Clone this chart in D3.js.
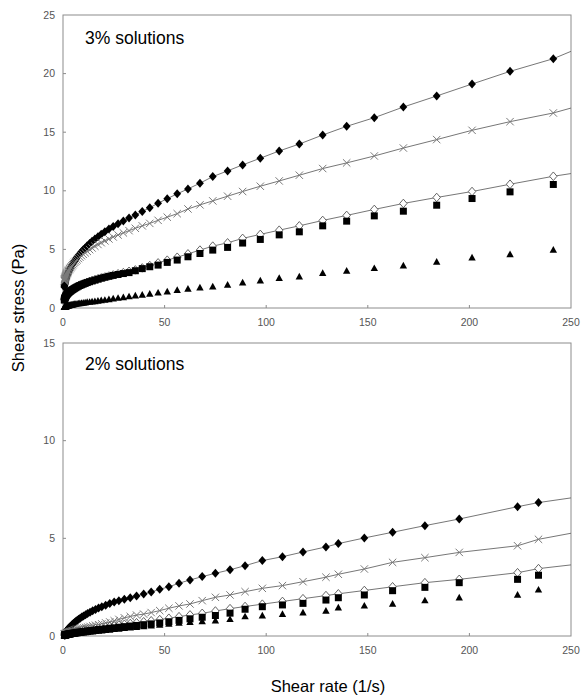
<!DOCTYPE html>
<html><head><meta charset="utf-8">
<script src="https://cdn.jsdelivr.net/npm/d3@7"></script>
<style>html,body{margin:0;padding:0;background:#fff;}svg{display:block;}</style>
</head><body>
<svg id="chart" width="581" height="697"></svg>
<script>
// ---------------- DATA ----------------
const xTicks = [0, 50, 100, 150, 200, 250];
const yTicksTop = [0, 5, 10, 15, 20, 25];
const yTicksBottom = [0, 5, 10, 15];
const panelTitles = ["3% solutions", "2% solutions"];

// 3% solutions: shear rate (1/s)
const rateTop = [0.65,0.71,0.78,0.85,0.93,1.02,1.12,1.22,1.34,1.47,1.61,1.76,1.93,2.11,2.32,2.54,2.78,3.04,3.33,3.65,4.00,4.38,4.80,5.26,5.76,6.31,6.91,7.57,8.29,9.08,9.95,10.9,11.9,13.1,14.3,15.7,17.2,18.8,20.6,22.6,24.7,27.1,29.7,32.5,35.6,39.0,42.7,46.8,51.3,56.2,61.5,67.4,73.7,81.0,88.4,97.1,106.4,116.3,127.8,139.6,153.2,167.5,183.9,201.3,220.0,241.3];
const topFilledDiamond = [1.80,1.88,1.96,2.03,2.10,2.17,2.25,2.33,2.41,2.49,2.57,2.66,2.75,2.84,2.93,3.02,3.12,3.22,3.32,3.43,3.54,3.66,3.78,3.91,4.04,4.18,4.32,4.47,4.63,4.79,4.96,5.13,5.31,5.50,5.69,5.89,6.09,6.30,6.51,6.73,6.95,7.18,7.42,7.67,7.94,8.23,8.56,8.94,9.33,9.74,10.16,10.65,11.21,11.70,12.21,12.78,13.40,13.99,14.76,15.50,16.24,17.15,18.09,19.11,20.19,21.27];
const topCross = [2.30,2.35,2.40,2.45,2.50,2.55,2.60,2.65,2.70,2.76,2.82,2.88,2.94,3.00,3.07,3.14,3.21,3.28,3.36,3.44,3.52,3.61,3.70,3.80,3.90,4.00,4.11,4.22,4.34,4.46,4.58,4.71,4.84,4.98,5.12,5.27,5.42,5.57,5.73,5.89,6.06,6.23,6.41,6.60,6.80,7.01,7.22,7.48,7.75,8.05,8.45,8.80,9.14,9.54,9.94,10.39,10.84,11.33,11.90,12.38,12.97,13.65,14.37,15.16,15.90,16.64];
const topOpenDiamond = [0.70,0.74,0.78,0.82,0.86,0.90,0.94,0.98,1.02,1.06,1.10,1.14,1.18,1.22,1.26,1.30,1.34,1.38,1.42,1.46,1.50,1.55,1.60,1.65,1.70,1.76,1.82,1.88,1.94,2.00,2.06,2.12,2.19,2.26,2.33,2.40,2.48,2.56,2.64,2.73,2.82,2.92,3.02,3.13,3.25,3.42,3.62,3.85,4.08,4.33,4.62,4.94,5.28,5.56,5.94,6.28,6.64,7.01,7.47,7.90,8.41,8.92,9.43,9.94,10.56,11.24];
const topSquare = [0.68,0.72,0.76,0.80,0.84,0.88,0.92,0.96,1.00,1.04,1.08,1.12,1.16,1.20,1.24,1.28,1.32,1.36,1.40,1.44,1.48,1.53,1.58,1.63,1.68,1.74,1.80,1.86,1.92,1.98,2.04,2.10,2.17,2.24,2.31,2.38,2.46,2.54,2.62,2.70,2.78,2.86,2.94,3.02,3.18,3.36,3.52,3.66,3.89,4.09,4.37,4.65,4.94,5.17,5.54,5.85,6.24,6.50,7.01,7.41,7.86,8.26,8.77,9.34,9.91,10.54];
const topTriangle = [0.06,0.07,0.07,0.08,0.08,0.09,0.10,0.10,0.11,0.12,0.13,0.14,0.15,0.16,0.17,0.18,0.19,0.21,0.22,0.23,0.25,0.26,0.28,0.29,0.31,0.33,0.35,0.37,0.39,0.41,0.43,0.45,0.48,0.50,0.53,0.56,0.59,0.63,0.67,0.72,0.78,0.84,0.90,0.97,1.04,1.11,1.19,1.29,1.39,1.52,1.62,1.72,1.81,1.96,2.16,2.33,2.53,2.67,2.96,3.15,3.38,3.60,3.92,4.28,4.57,4.94];
// fitted-curve end values at shear rate 250
const topFitEnd = [21.9, 17.06, 11.47];

// 2% solutions: shear rate (1/s)
const rateBottom = [0.72,0.79,0.86,0.95,1.04,1.14,1.24,1.36,1.49,1.64,1.79,1.96,2.15,2.35,2.58,2.82,3.09,3.39,3.71,4.07,4.45,4.88,5.34,5.85,6.41,7.02,7.69,8.43,9.23,10.1,11.1,12.1,13.3,14.6,16.0,17.5,19.1,21.0,23.0,25.2,27.5,30.2,33.1,36.2,39.7,43.4,47.6,52.1,57.1,62.5,68.5,75.0,82.2,89.6,98.1,108.0,118.1,129.4,135.5,148.3,162.2,178.1,195.0,223.7,234.0];
const bottomFilledDiamond = [0.14,0.15,0.16,0.17,0.18,0.19,0.21,0.22,0.24,0.26,0.28,0.30,0.32,0.34,0.37,0.40,0.43,0.46,0.49,0.53,0.57,0.61,0.65,0.70,0.75,0.80,0.86,0.91,0.97,1.03,1.09,1.15,1.22,1.29,1.36,1.43,1.50,1.58,1.66,1.74,1.80,1.88,1.96,2.05,2.15,2.25,2.39,2.52,2.70,2.87,3.04,3.21,3.39,3.60,3.86,4.06,4.30,4.56,4.73,5.02,5.31,5.65,5.99,6.62,6.83];
const bottomCross = [0.08,0.08,0.09,0.09,0.10,0.10,0.11,0.12,0.12,0.13,0.14,0.15,0.16,0.17,0.18,0.19,0.20,0.21,0.22,0.23,0.25,0.26,0.28,0.30,0.32,0.34,0.36,0.38,0.40,0.42,0.44,0.46,0.49,0.52,0.55,0.58,0.62,0.67,0.72,0.78,0.85,0.93,1.00,1.07,1.12,1.20,1.30,1.42,1.54,1.64,1.81,1.98,2.10,2.27,2.44,2.58,2.78,3.01,3.16,3.43,3.77,4.01,4.28,4.62,4.95];
const bottomOpenDiamond = [0.05,0.05,0.05,0.06,0.06,0.06,0.07,0.07,0.08,0.08,0.09,0.09,0.10,0.10,0.11,0.12,0.12,0.13,0.14,0.15,0.16,0.17,0.18,0.19,0.20,0.21,0.23,0.24,0.26,0.27,0.29,0.31,0.33,0.35,0.38,0.40,0.43,0.46,0.49,0.52,0.56,0.60,0.64,0.68,0.73,0.78,0.84,0.91,0.99,1.08,1.16,1.28,1.40,1.51,1.63,1.77,1.91,2.07,2.16,2.33,2.52,2.73,2.90,3.24,3.45];
const bottomSquare = [0.04,0.04,0.05,0.05,0.05,0.06,0.06,0.06,0.07,0.07,0.07,0.08,0.08,0.09,0.09,0.10,0.11,0.11,0.12,0.13,0.13,0.14,0.15,0.16,0.17,0.18,0.19,0.20,0.22,0.23,0.24,0.26,0.27,0.29,0.31,0.33,0.35,0.37,0.40,0.42,0.45,0.48,0.51,0.54,0.58,0.62,0.67,0.73,0.80,0.88,0.96,1.05,1.17,1.37,1.50,1.59,1.67,1.84,1.96,2.10,2.32,2.49,2.73,2.90,3.11];
const bottomTriangle = [0.03,0.03,0.03,0.03,0.03,0.04,0.04,0.04,0.04,0.05,0.05,0.05,0.06,0.06,0.06,0.07,0.07,0.08,0.08,0.09,0.09,0.10,0.11,0.11,0.12,0.13,0.14,0.15,0.16,0.17,0.18,0.19,0.21,0.22,0.24,0.25,0.27,0.29,0.31,0.34,0.36,0.39,0.42,0.45,0.48,0.52,0.56,0.61,0.66,0.70,0.74,0.78,0.85,0.99,1.04,1.11,1.19,1.28,1.45,1.54,1.64,1.81,1.96,2.10,2.36];
const bottomFitEnd = [7.07, 5.26, 3.64];

// ---------------- DRAW ----------------
const svg = d3.select("#chart");
const font = "'Liberation Sans', Arial, sans-serif";
const left = 63, right = 571;
const x = d3.scaleLinear().domain([0, 250]).range([left, right]);

const panels = [
  {top: 15, bottom: 308, yMax: 25, yTicks: yTicksTop, title: panelTitles[0], titleY: 44,
   rate: rateTop, fitEnd: topFitEnd,
   series: [topFilledDiamond, topCross, topOpenDiamond, topSquare, topTriangle]},
  {top: 343, bottom: 636, yMax: 15, yTicks: yTicksBottom, title: panelTitles[1], titleY: 370,
   rate: rateBottom, fitEnd: bottomFitEnd,
   series: [bottomFilledDiamond, bottomCross, bottomOpenDiamond, bottomSquare, bottomTriangle]}
];

const markers = [
  {path: "M0,-4.5L3.9,0L0,4.5L-3.9,0Z", fill: "#000", stroke: "none", sw: 0},
  {path: "M-3.7,-3.7L3.7,3.7M-3.7,3.7L3.7,-3.7", fill: "none", stroke: "#7a7a7a", sw: 1},
  {path: "M0,-4.3L3.7,0L0,4.3L-3.7,0Z", fill: "#fff", stroke: "#555", sw: 0.9},
  {path: "M-3.5,-3.5H3.5V3.5H-3.5Z", fill: "#000", stroke: "none", sw: 0},
  {path: "M0,-4L3.7,2.7L-3.7,2.7Z", fill: "#000", stroke: "none", sw: 0}
];

panels.forEach(p => {
  const y = d3.scaleLinear().domain([0, p.yMax]).range([p.bottom, p.top]);
  const g = svg.append("g");

  // frame
  g.append("rect").attr("x", left).attr("y", p.top)
    .attr("width", right - left).attr("height", p.bottom - p.top)
    .attr("fill", "none").attr("stroke", "#8c8c8c").attr("stroke-width", 1);

  // y ticks (inside) and labels
  p.yTicks.forEach(t => {
    if (t > 0 && t < p.yMax) {
      g.append("line").attr("x1", left).attr("x2", left + 3)
        .attr("y1", y(t)).attr("y2", y(t)).attr("stroke", "#8c8c8c");
    }
    g.append("text").attr("x", 55).attr("y", y(t)).attr("dy", "0.35em")
      .attr("text-anchor", "end").attr("font-family", font).attr("font-size", 10.5)
      .attr("fill", "#555").text(t);
  });
  // x ticks (inside) and labels
  xTicks.forEach(t => {
    if (t > 0 && t < 250) {
      g.append("line").attr("x1", x(t)).attr("x2", x(t))
        .attr("y1", p.bottom).attr("y2", p.bottom - 3).attr("stroke", "#8c8c8c");
    }
    g.append("text").attr("x", x(t)).attr("y", p.bottom + 18)
      .attr("text-anchor", "middle").attr("font-family", font).attr("font-size", 10.5)
      .attr("fill", "#555").text(t);
  });

  // fitted lines (first three series)
  const line = d3.line().x(d => x(d[0])).y(d => y(d[1]));
  for (let s = 0; s < 3; s++) {
    const pts = p.rate.map((r, i) => [r, p.series[s][i]]);
    pts.push([250, p.fitEnd[s]]);
    g.append("path").attr("d", line(pts)).attr("fill", "none")
      .attr("stroke", "#666").attr("stroke-width", 0.9);
  }

  // markers
  p.series.forEach((vals, s) => {
    const m = markers[s];
    g.append("g").selectAll("path").data(vals).join("path")
      .attr("transform", (v, i) => `translate(${x(p.rate[i])},${y(v)})`)
      .attr("d", m.path).attr("fill", m.fill)
      .attr("stroke", m.stroke).attr("stroke-width", m.sw);
  });

  // panel title
  g.append("text").attr("x", 85).attr("y", p.titleY)
    .attr("font-family", font).attr("font-size", 17.5).attr("fill", "#000").text(p.title);
});

// axis titles
svg.append("text").attr("x", 328).attr("y", 692).attr("text-anchor", "middle")
  .attr("font-family", font).attr("font-size", 16.5).attr("fill", "#000").text("Shear rate (1/s)");
svg.append("text").attr("transform", "translate(24,308) rotate(-90)").attr("text-anchor", "middle")
  .attr("font-family", font).attr("font-size", 16.5).attr("fill", "#000").text("Shear stress (Pa)");
</script>
</body></html>
